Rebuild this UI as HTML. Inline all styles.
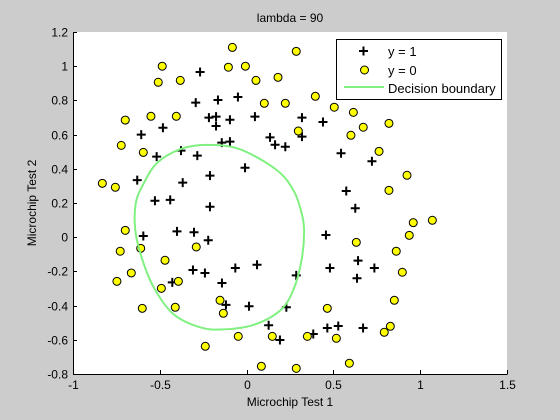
<!DOCTYPE html>
<html><head><meta charset="utf-8"><style>
html,body{margin:0;padding:0;background:#cccccc;}
svg{display:block;font-family:"Liberation Sans",Arial,sans-serif;}
</style></head><body>
<svg id="chart" width="560" height="420" viewBox="0 0 560 420" xmlns="http://www.w3.org/2000/svg">
<rect x="0" y="0" width="560" height="420" fill="#cccccc"/>
<rect x="73" y="32" width="434" height="342" fill="#ffffff"/>
<text x="290" y="22" font-size="12" text-anchor="middle" fill="#000">lambda = 90</text>
<text x="290" y="406" font-size="12" text-anchor="middle" fill="#000">Microchip Test 1</text>
<text x="36" y="203" font-size="12" text-anchor="middle" fill="#000" transform="rotate(-90 36 203)">Microchip Test 2</text>
<g id="marks"></g>
<g id="axes"></g>
<g id="legend">
<rect x="336.5" y="39.5" width="165" height="60" fill="#fff" stroke="#000" stroke-width="1"/>
<g>
<path d="M359 51h9M363.5 46.5v9" stroke="#000" stroke-width="2"/>
<text x="388" y="56" font-size="13">y = 1</text></g>
<g>
<circle cx="364.5" cy="70" r="4" fill="#ffff00" stroke="#000" stroke-width="1"/>
<text x="388" y="75" font-size="13">y = 0</text></g>
<g>
<path d="M344 87h40" stroke="#80f080" stroke-width="2"/>
<text x="388" y="93" font-size="13">Decision boundary</text></g>
</g>
</svg>
<script>
const xTicks=[-1,-0.5,0,0.5,1,1.5];
const yTicks=[-0.8,-0.6,-0.4,-0.2,0,0.2,0.4,0.6,0.8,1,1.2];
const posX=[-0.268,-0.293,-0.165,-0.05,0.048,-0.217,-0.176,-0.176,-0.096,-0.482,-0.607,-0.143,-0.096,-0.518,-0.378,-0.284,-0.009,-0.63,-0.211,-0.368,-0.528,-0.44,-0.211,0.135,0.164,0.319,0.44,0.319,0.223,0.544,0.722,0.574,0.626,-0.595,-0.401,-0.303,-0.221,-0.309,-0.24,-0.428,-0.142,-0.065,0.06,-0.119,0.014,0.127,0.192,0.457,0.642,0.48,0.736,0.636,0.286,0.229,0.465,0.528,0.671,0.384];
const posY=[0.966,0.787,0.802,0.82,0.705,0.699,0.705,0.65,0.687,0.64,0.6,0.553,0.559,0.471,0.506,0.477,0.406,0.334,0.36,0.319,0.213,0.218,0.178,0.584,0.541,0.699,0.674,0.588,0.529,0.491,0.444,0.27,0.169,0.007,0.034,0.029,-0.018,-0.192,-0.209,-0.264,-0.268,-0.18,-0.161,-0.396,-0.404,-0.515,-0.601,0.013,-0.137,-0.18,-0.18,-0.24,-0.223,-0.41,-0.531,-0.519,-0.531,-0.566];
const negX=[-0.082,-0.486,-0.105,-0.007,-0.509,-0.382,0.054,0.181,0.102,-0.699,-0.551,-0.405,-0.722,-0.595,-0.831,-0.756,0.286,0.396,0.223,0.505,0.615,0.672,0.82,0.298,0.601,0.763,0.924,0.82,-0.699,-0.728,-0.61,-0.29,-0.47,-0.664,-0.747,-0.491,-0.393,-0.153,-0.134,-0.601,-0.411,-0.048,0.148,-0.238,0.085,0.96,1.07,0.937,0.632,0.862,0.897,0.851,0.465,0.828,0.793,0.35,0.517,0.592,0.286];
const negY=[1.11,1.0,0.994,1.0,0.906,0.917,0.917,0.935,0.783,0.685,0.707,0.707,0.537,0.496,0.315,0.292,1.087,0.824,0.783,0.76,0.73,0.643,0.666,0.621,0.596,0.502,0.362,0.274,0.04,-0.082,-0.065,-0.057,-0.135,-0.209,-0.258,-0.299,-0.258,-0.369,-0.445,-0.416,-0.41,-0.58,-0.58,-0.638,-0.755,0.085,0.099,0.011,-0.03,-0.082,-0.205,-0.369,-0.416,-0.521,-0.556,-0.58,-0.591,-0.737,-0.767];
const bndX=[-0.638,-0.595,-0.518,-0.384,-0.23,-0.038,0.173,0.269,0.312,0.331,0.317,0.269,0.192,0.039,-0.134,-0.268,-0.422,-0.537,-0.604,-0.641];
const bndY=[0.2,0.31,0.432,0.514,0.54,0.514,0.393,0.276,0.159,0.042,-0.133,-0.309,-0.43,-0.513,-0.539,-0.527,-0.449,-0.29,-0.12,0.04];
const L=73,R=507,T=32,B=374,xmin=-1,xmax=1.5,ymin=-0.8,ymax=1.2;
const sx=v=>L+(v-xmin)/(xmax-xmin)*(R-L);
const sy=v=>B-(v-ymin)/(ymax-ymin)*(B-T);
const NS='http://www.w3.org/2000/svg';
const marks=document.getElementById('marks');
const axes=document.getElementById('axes');
function mk(tag,attrs,parent){const e=document.createElementNS(NS,tag);for(const k in attrs)e.setAttribute(k,attrs[k]);parent.appendChild(e);return e;}
for(let i=0;i<posX.length;i++){
  const x=sx(posX[i]),y=sy(posY[i]);
  const p=mk('path',{d:`M${x-4.5} ${y}h9M${x} ${y-4.5}v9`,stroke:'#000','stroke-width':2},marks);
  
  
}
for(let i=0;i<negX.length;i++){
  const c=mk('circle',{cx:sx(negX[i]),cy:sy(negY[i]),r:4,fill:'#ffff00',stroke:'#000','stroke-width':1},marks);
  
  
}
const pts=bndX.map((v,i)=>[sx(v),sy(bndY[i])]);
const n=pts.length;
let d=`M${pts[0][0].toFixed(1)} ${pts[0][1].toFixed(1)}`;
for(let i=0;i<n;i++){
  const p0=pts[(i-1+n)%n],p1=pts[i],p2=pts[(i+1)%n],p3=pts[(i+2)%n];
  const c1=[p1[0]+(p2[0]-p0[0])/6,p1[1]+(p2[1]-p0[1])/6];
  const c2=[p2[0]-(p3[0]-p1[0])/6,p2[1]-(p3[1]-p1[1])/6];
  d+=`C${c1[0].toFixed(1)} ${c1[1].toFixed(1)} ${c2[0].toFixed(1)} ${c2[1].toFixed(1)} ${p2[0].toFixed(1)} ${p2[1].toFixed(1)}`;
}
const bl=mk('path',{d:d,fill:'none',stroke:'#80f080','stroke-width':2},marks);


const frame=mk('path',{d:`M${L+0.5} ${T}V${B+0.5}H${R+0.5}`,fill:'none',stroke:'#000','stroke-width':1},axes);


for(const v of xTicks){
  const x=Math.round(sx(v))+0.5;
  mk('path',{d:`M${x} ${B}v-4`,stroke:'#000','stroke-width':1},axes);
  const t=mk('text',{x:x,y:B+15,'font-size':12,'text-anchor':'middle',fill:'#000'},axes);
  t.textContent=String(v);
  
  
}
for(const v of yTicks){
  const y=Math.round(sy(v))+0.5;
  mk('path',{d:`M${L} ${y}h4`,stroke:'#000','stroke-width':1},axes);
  const t=mk('text',{x:L-5,y:y+4,'font-size':12,'text-anchor':'end',fill:'#000'},axes);
  t.textContent=String(v);
  
  
}
</script>
</body></html>
